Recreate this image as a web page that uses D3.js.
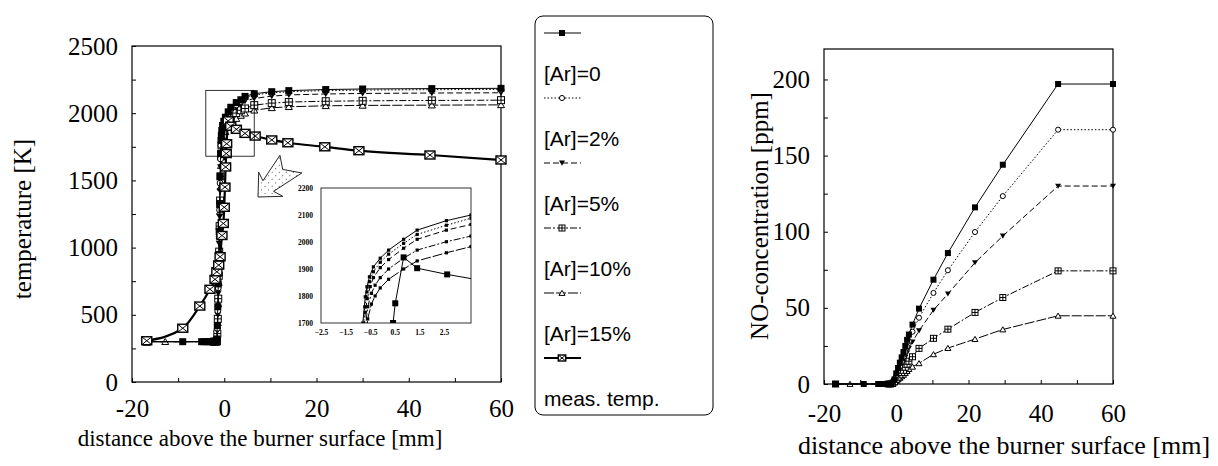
<!DOCTYPE html>
<html>
<head>
<meta charset="utf-8">
<script src="https://cdn.jsdelivr.net/npm/d3@7"></script>
<style>
body{margin:0;background:#fff}
</style>
</head>
<body>
<script>
// temperature profiles  [distance mm, T K]
var tAr0 = [[-16.8,300],[-9,300],[-4.9,300],[-4.3,300],[-3.7,300],[-3.2,300],[-2.7,300],[-2.3,300],[-1.9,300],[-1.7,302],[-1.6,320],[-1.5,420],[-1.4,560],[-1.3,730],[-1.2,920],[-1.1,1120],[-1.0,1320],[-0.9,1530],[-0.8,1700],[-0.7,1797],[-0.63,1834],[-0.53,1871],[-0.37,1908],[-0.09,1940],[0.25,1970],[0.86,2010],[1.41,2044],[2.6,2079],[3.6,2100],[4.5,2125],[6.5,2145],[10.3,2160],[14,2168],[22,2176],[30,2180],[45,2183],[60,2185]];
var tAr2 = [[-16.8,300],[-2.3,300],[-1.9,300],[-1.7,302],[-1.6,315],[-1.5,400],[-1.4,530],[-1.3,700],[-1.2,880],[-1.1,1080],[-1.0,1280],[-0.9,1480],[-0.8,1660],[-0.72,1760],[-0.63,1815],[-0.53,1853],[-0.37,1890],[-0.09,1925],[0.25,1955],[0.86,1995],[1.41,2028],[2.6,2062],[3.6,2088],[4.5,2115],[6.5,2135],[10.3,2152],[14,2160],[22,2168],[30,2172],[45,2175],[60,2177]];
var tAr5 = [[-16.8,300],[-2.3,300],[-1.9,300],[-1.7,301],[-1.6,310],[-1.5,380],[-1.4,500],[-1.3,660],[-1.2,840],[-1.1,1030],[-1.0,1230],[-0.9,1420],[-0.8,1600],[-0.7,1740],[-0.62,1790],[-0.5,1835],[-0.37,1868],[-0.09,1905],[0.25,1935],[0.86,1977],[1.41,2010],[2.6,2044],[3.6,2065],[4.5,2090],[6.5,2110],[10.3,2127],[14,2136],[22,2143],[30,2147],[45,2150],[60,2152]];
var tAr10 = [[-16.8,300],[-2.3,300],[-1.9,300],[-1.7,301],[-1.6,305],[-1.5,360],[-1.4,470],[-1.3,620],[-1.2,790],[-1.1,970],[-1.0,1160],[-0.9,1350],[-0.8,1530],[-0.7,1680],[-0.6,1760],[-0.45,1810],[-0.3,1840],[-0.09,1868],[0.25,1900],[0.86,1940],[1.41,1970],[2.6,2001],[3.6,2022],[4.5,2035],[6.5,2060],[10.3,2075],[14,2083],[22,2089],[30,2092],[45,2095],[60,2097]];
var tAr15 = [[-16.8,300],[-12.8,300],[-2.3,300],[-1.9,300],[-1.7,300],[-1.6,303],[-1.5,340],[-1.4,440],[-1.3,580],[-1.2,740],[-1.1,910],[-1.0,1090],[-0.9,1270],[-0.8,1450],[-0.7,1610],[-0.6,1715],[-0.45,1770],[-0.3,1800],[-0.09,1830],[0.25,1862],[0.86,1900],[1.41,1930],[2.6,1960],[3.6,1983],[4.5,2000],[6.5,2022],[10.3,2040],[14,2048],[22,2055],[30,2058],[45,2060],[60,2062]];
var tMeas = [[-16.8,307],[-9,400],[-5.3,565],[-3.1,690],[-2.0,764],[-1.6,820],[-1.2,870],[-0.9,932],[-0.5,1090],[-0.2,1180],[0,1300],[0.15,1450],[0.3,1600],[0.43,1700],[0.52,1773],[0.86,1943],[1.41,1903],[2.63,1880],[4.5,1850],[6.7,1830],[10.3,1801],[13.8,1780],[21.8,1750],[29.2,1721],[44.6,1689],[60,1652]];

// NO profiles  [distance mm, ppm]
var nAr0 = [[-16.8,0],[-9,0],[-5,0],[-4.2,0],[-3.5,0],[-2.8,0],[-2.2,0],[-1.6,0],[-1,1],[-0.5,3],[0,7],[0.5,10.5],[1,14],[1.5,17.5],[2,21],[2.5,25],[3,29],[3.5,32.5],[4.5,39],[6.3,49.5],[10.3,68.5],[14.3,86],[21.8,116],[29.5,144],[44.8,197],[60,197]];
var nAr2 = [[-16.8,0],[-2.2,0],[-1.6,0],[-1,0.5],[-0.5,2.5],[0,5.5],[0.5,8.5],[1,11.5],[1.5,14.5],[2,17.5],[2.5,21],[3,24.5],[3.5,28],[4.5,34.3],[6.3,43.5],[10.3,59.8],[14.3,74.7],[21.8,99.8],[29.5,123.4],[44.8,167],[60,167]];
var nAr5 = [[-16.8,0],[-2.2,0],[-1.6,0],[-1,0.5],[-0.5,2],[0,4.5],[0.5,7],[1,9.5],[1.5,12],[2,14.5],[2.5,17.5],[3,20.5],[3.5,23.5],[4.5,27.7],[6.3,35],[10.3,48.5],[14.3,59.2],[21.8,79.7],[29.5,97.2],[44.8,130],[60,130]];
var nAr10 = [[-16.8,0],[-2.2,0],[-1.6,0],[-1,0.3],[-0.5,1.5],[0,3],[0.5,4.5],[1,6],[1.5,7.5],[2,9],[2.5,11],[3,13],[3.5,15],[4.5,17.9],[6.3,23.4],[10.3,30],[14.3,36],[21.8,47],[29.5,56.8],[44.8,74.3],[60,74.3]];
var nAr15 = [[-16.8,0],[-12.8,0],[-2.2,0],[-1.6,0],[-1,0.2],[-0.5,1],[0,2],[0.5,3],[1,4],[1.5,5],[2,6],[2.5,7.2],[3,8.5],[3.5,9.8],[4.5,11.3],[6.3,13.6],[10.3,19.5],[14.3,23.6],[21.8,29.5],[29.5,35.8],[44.8,44.8],[60,44.8]];

var legendLabels = ["[Ar]=0","[Ar]=2%","[Ar]=5%","[Ar]=10%","[Ar]=15%","meas. temp."];
var distTicks = [-20,0,20,40,60];
var tempTicks = [0,500,1000,1500,2000,2500];
var noTicks = [0,50,100,150,200];
var insetTTicks = [1700,1800,1900,2000,2100,2200];
var insetXTicks = [-2.5,-1.5,-0.5,0.5,1.5,2.5];

var serif = "'Liberation Serif','Times New Roman',serif";
var sans = "'Liberation Sans',Arial,sans-serif";

// style per series, same order as legend
var styles = [
  {sym:"fsq",  dash:null,      w:1},
  {sym:"ocirc",dash:"1.5,2",   w:1},
  {sym:"ftri", dash:"6,3",     w:1},
  {sym:"bplus",dash:"7,2,2,2", w:1},
  {sym:"otri", dash:"10,2",    w:1},
  {sym:"xsq",  dash:null,      w:2.2}
];
var tempData = [tAr0,tAr2,tAr5,tAr10,tAr15,tMeas];
var noData = [nAr0,nAr2,nAr5,nAr10,nAr15];

var svg = d3.select("body").append("svg")
  .attr("width",1218).attr("height",466)
  .style("background","#fff");

// dotted fill for the arrow
var defs = svg.append("defs");
var pat = defs.append("pattern").attr("id","dots")
  .attr("width",5).attr("height",5).attr("patternUnits","userSpaceOnUse");
pat.append("circle").attr("cx",2.5).attr("cy",2.5).attr("r",0.6).attr("fill","#333");

function drawSym(g, type, s, solid){
  var h = s/2;
  if(type=="fsq" || solid){
    g.append("rect").attr("x",-h).attr("y",-h).attr("width",s).attr("height",s).attr("fill","#000");
    return;
  }
  if(type=="ocirc"){
    g.append("circle").attr("r",h*0.85).attr("fill","#fff").attr("stroke","#000").attr("stroke-width",1);
  } else if(type=="ftri"){
    g.append("path").attr("d","M"+(-h)+","+(-h*0.8)+"L"+h+","+(-h*0.8)+"L0,"+(h*0.9)+"Z").attr("fill","#000");
  } else if(type=="bplus"){
    g.append("rect").attr("x",-h).attr("y",-h).attr("width",s).attr("height",s).attr("fill","#fff").attr("stroke","#000");
    g.append("path").attr("d","M"+(-h)+",0H"+h+"M0,"+(-h)+"V"+h).attr("stroke","#000");
  } else if(type=="otri"){
    g.append("path").attr("d","M"+(-h)+","+(h*0.8)+"L"+h+","+(h*0.8)+"L0,"+(-h*0.9)+"Z").attr("fill","#fff").attr("stroke","#000");
  } else if(type=="xsq"){
    var wx = h*1.25;
    g.append("rect").attr("x",-wx).attr("y",-h).attr("width",2*wx).attr("height",s).attr("fill","#fff").attr("stroke","#000").attr("stroke-width",1.4);
    g.append("path").attr("d","M"+(-wx)+","+(-h)+"L"+wx+","+h+"M"+(-wx)+","+h+"L"+wx+","+(-h)).attr("stroke","#000").attr("stroke-width",1);
  }
}

function drawSeries(g, data, st, x, y, size, solid, curve){
  var line = d3.line().x(function(d){return x(d[0]);}).y(function(d){return y(d[1]);});
  if(curve) line.curve(d3.curveMonotoneX);
  g.append("path").datum(data).attr("d",line)
    .attr("fill","none").attr("stroke","#000")
    .attr("stroke-width",st.w)
    .attr("stroke-dasharray",st.dash);
  g.selectAll(null).data(data).enter().append("g")
    .attr("transform",function(d){return "translate("+x(d[0])+","+y(d[1])+")";})
    .each(function(){ drawSym(d3.select(this), st.sym, size, solid); });
}

function styleTicks(size, extra){
  return function(a){
    a.select(".domain").remove();
    a.selectAll("text").attr("font-family",serif).attr("font-size",size).attr("fill","#000");
    if(extra) a.selectAll("text").attr("font-weight","bold");
  };
}

// ---------- left chart : temperature ----------
var xT = d3.scaleLinear().domain([-20,60]).range([132,501]);
var yT = d3.scaleLinear().domain([0,2500]).range([382,46]);

var left = svg.append("g");
left.append("g").attr("transform","translate(0,382)")
  .call(d3.axisBottom(xT).tickValues(d3.range(-20,61,10)).tickSize(-4).tickPadding(17)
    .tickFormat(function(d){return distTicks.indexOf(d)>=0 ? d : "";}))
  .call(styleTicks(25));
left.append("g").attr("transform","translate(132,0)")
  .call(d3.axisLeft(yT).tickValues(d3.range(0,2501,250)).tickSize(-4).tickPadding(14)
    .tickFormat(function(d){return tempTicks.indexOf(d)>=0 ? d : "";}))
  .call(styleTicks(25));
left.append("rect").attr("x",132).attr("y",46).attr("width",369).attr("height",336)
  .attr("fill","none").attr("stroke","#000").attr("stroke-width",1.2);

for(var i=4;i>=0;i--) drawSeries(left, tempData[i], styles[i], xT, yT, 7, false, false);
drawSeries(left, tMeas, styles[5], xT, yT, 8, false, true);

// zoom box around the flame front
left.append("rect").attr("x",xT(-4)).attr("y",yT(2170))
  .attr("width",xT(6.5)-xT(-4)).attr("height",yT(1680)-yT(2170))
  .attr("fill","none").attr("stroke","#000").attr("stroke-width",0.8);

// hollow stippled arrow
left.append("path")
  .attr("d","M0,0L-18,-17L-15,-7L-48,-14L-37,2L-45,14L-15,8L-18,17Z")
  .attr("transform","translate(258,197) rotate(135)")
  .attr("fill","url(#dots)").attr("stroke","#000").attr("stroke-width",0.8);

left.append("text").attr("transform","translate(31,219) rotate(-90)")
  .attr("text-anchor","middle").attr("font-family",serif).attr("font-size",25)
  .text("temperature [K]");
left.append("text").attr("x",260).attr("y",446)
  .attr("text-anchor","middle").attr("font-family",serif).attr("font-size",23)
  .text("distance above the burner surface [mm]");

// ---------- inset ----------
var xI = d3.scaleLinear().domain([-2.5,3.6]).range([321,471]);
var yI = d3.scaleLinear().domain([1700,2200]).range([323,188]);
var inset = svg.append("g");
inset.append("rect").attr("x",321).attr("y",188).attr("width",150).attr("height",135).attr("fill","#fff");
defs.append("clipPath").attr("id","clipInset").append("rect")
  .attr("x",321).attr("y",188).attr("width",150).attr("height",135);
var ic = inset.append("g").attr("clip-path","url(#clipInset)");
for(var j=4;j>=0;j--) drawSeries(ic, tempData[j], styles[j], xI, yI, 3.2, true, false);
drawSeries(ic, tMeas, {sym:"xsq",dash:null,w:1}, xI, yI, 6, true, false);
inset.append("rect").attr("x",321).attr("y",188).attr("width",150).attr("height",135)
  .attr("fill","none").attr("stroke","#000").attr("stroke-width",0.8);
inset.append("g").attr("transform","translate(321,0)")
  .call(d3.axisLeft(yI).tickValues(insetTTicks).tickSize(0).tickPadding(8).tickFormat(d3.format("d")))
  .call(styleTicks(7.5, true));
inset.append("g").attr("transform","translate(0,323)")
  .call(d3.axisBottom(xI).tickValues(insetXTicks).tickSize(0).tickPadding(7).tickFormat(d3.format(".1f")))
  .call(styleTicks(7.5, true));

// ---------- legend ----------
var leg = svg.append("g");
leg.append("rect").attr("x",535).attr("y",16).attr("width",178).attr("height",399).attr("rx",8)
  .attr("fill","#fff").attr("stroke","#000").attr("stroke-width",1);
legendLabels.forEach(function(lab, k){
  var yy = 33 + k*65;
  var st = styles[k];
  leg.append("line").attr("x1",544).attr("x2",581).attr("y1",yy).attr("y2",yy)
    .attr("stroke","#000").attr("stroke-width",st.w).attr("stroke-dasharray",st.dash);
  drawSym(leg.append("g").attr("transform","translate(562,"+yy+")"), st.sym, 6, false);
  leg.append("text").attr("x",544).attr("y",yy+48)
    .attr("font-family",sans).attr("font-size",21).text(lab);
});

// ---------- right chart : NO ----------
var xN = d3.scaleLinear().domain([-20,60]).range([824,1113]);
var yN = d3.scaleLinear().domain([0,220]).range([384,49]);
var right = svg.append("g");
right.append("g").attr("transform","translate(0,384)")
  .call(d3.axisBottom(xN).tickValues(d3.range(-20,61,10)).tickSize(-4).tickPadding(20)
    .tickFormat(function(d){return distTicks.indexOf(d)>=0 ? d : "";}))
  .call(styleTicks(25));
right.append("g").attr("transform","translate(824,0)")
  .call(d3.axisLeft(yN).tickValues(d3.range(0,201,25)).tickSize(-4).tickPadding(14)
    .tickFormat(function(d){return noTicks.indexOf(d)>=0 ? d : "";}))
  .call(styleTicks(25));
right.append("rect").attr("x",824).attr("y",49).attr("width",289).attr("height",335)
  .attr("fill","none").attr("stroke","#000").attr("stroke-width",1.2);
for(var n=4;n>=0;n--) drawSeries(right, noData[n], styles[n], xN, yN, 6, false, false);

right.append("text").attr("transform","translate(768,216) rotate(-90)")
  .attr("text-anchor","middle").attr("font-family",serif).attr("font-size",25)
  .text("NO-concentration [ppm]");
right.append("text").attr("x",1004).attr("y",454)
  .attr("text-anchor","middle").attr("font-family",serif).attr("font-size",26)
  .text("distance above the burner surface [mm]");
</script>
</body>
</html>
